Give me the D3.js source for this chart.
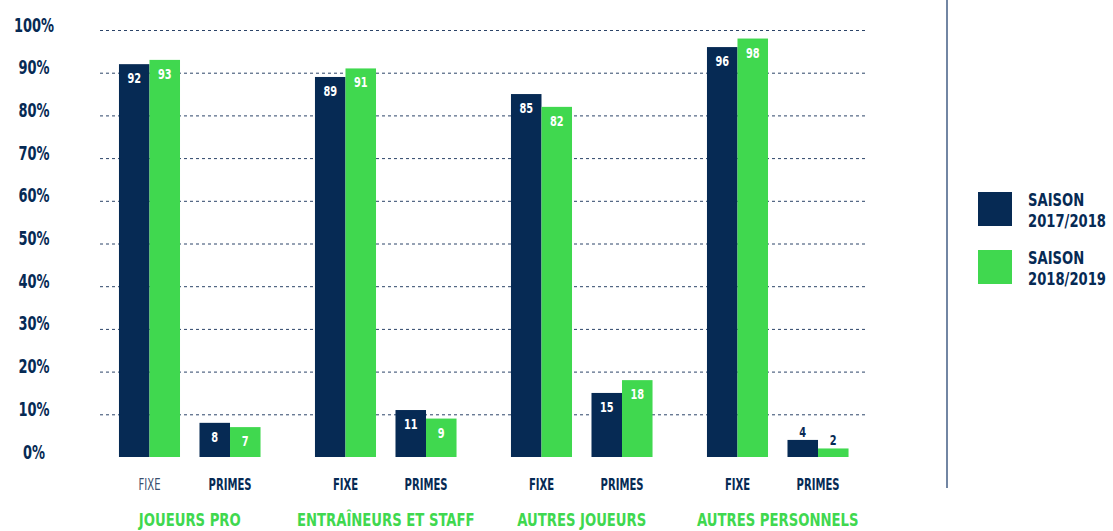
<!DOCTYPE html>
<html>
<head>
<meta charset="utf-8">
<script src="https://cdn.jsdelivr.net/npm/d3@7"></script>
<style>
  html, body { margin: 0; padding: 0; background: #ffffff; }
  svg { display: block; }
  text { font-family: "DejaVu Sans Condensed", "DejaVu Sans", sans-serif; }
</style>
</head>
<body>
<svg id="chart" width="1113" height="531"></svg>
<script>
// Categories
const groups = ["JOUEURS PRO", "ENTRAÎNEURS ET STAFF", "AUTRES JOUEURS", "AUTRES PERSONNELS"];
const kinds = ["FIXE", "PRIMES"];
const seasons = ["SAISON 2017/2018", "SAISON 2018/2019"];

// Share of pay (%) per group, fixed part then bonuses
const fixe2017 = [92, 89, 85, 96];
const fixe2018 = [93, 91, 82, 98];
const primes2017 = [8, 11, 15, 4];
const primes2018 = [7, 9, 18, 2];

const yTicks = [0, 10, 20, 30, 40, 50, 60, 70, 80, 90, 100];

const NAVY = "#062a54";
const GREEN = "#40d84f";
const colors = [NAVY, GREEN];

const rows = [];
groups.forEach((g, i) => {
  rows.push({ group: g, kind: "FIXE", values: [fixe2017[i], fixe2018[i]] });
  rows.push({ group: g, kind: "PRIMES", values: [primes2017[i], primes2018[i]] });
});

const svg = d3.select("#chart");

// Place a text at (x, y) with a horizontal squeeze to get a narrow display face
function place(sel, x, y, sx) {
  sel.attr("x", 0).attr("y", 0)
    .attr("transform", (d, i) => `translate(${x(d, i)},${y(d, i)}) scale(${sx},1)`);
}

const y = d3.scaleLinear().domain([0, 100]).range([457, 30]);

const xGroup = d3.scaleBand().domain(groups).range([91.75, 875.75]).paddingInner(0).paddingOuter(0);
const xKind = d3.scaleBand().domain(kinds).range([0, xGroup.bandwidth()])
  .paddingInner(0.242).paddingOuter(0.338);
const xSeason = d3.scaleBand().domain([0, 1]).range([0, xKind.bandwidth()]).padding(0);

// Dashed gridlines from 10% to 100%
const grid = svg.append("g")
  .attr("transform", "translate(865,0)")
  .call(d3.axisLeft(y).tickValues(yTicks.filter(t => t > 0)).tickSize(765).tickFormat(""));
grid.select(".domain").remove();
grid.selectAll(".tick line")
  .attr("stroke", "#2c4468")
  .attr("stroke-width", 1)
  .attr("stroke-dasharray", "3,3");

// Y axis labels
const yAxis = svg.append("g")
  .attr("transform", "translate(34,0)")
  .call(d3.axisLeft(y).tickValues(yTicks).tickSize(0).tickFormat(d => d + "%"));
yAxis.select(".domain").remove();
yAxis.selectAll(".tick text")
  .attr("x", 0)
  .attr("y", 1)
  .attr("dy", null)
  .attr("transform", "scale(0.76,1)")
  .attr("text-anchor", "middle")
  .attr("fill", NAVY)
  .attr("font-size", 19)
  .attr("font-weight", "bold")
  .style("font-family", "'DejaVu Sans Condensed', 'DejaVu Sans', sans-serif");

// Bars
const cells = svg.append("g").selectAll("g.cell")
  .data(rows).join("g")
  .attr("class", "cell")
  .attr("transform", d => `translate(${xGroup(d.group) + xKind(d.kind)},0)`);

cells.selectAll("rect")
  .data(d => d.values.map((v, i) => ({ v, i })))
  .join("rect")
  .attr("x", d => xSeason(d.i))
  .attr("width", xSeason.bandwidth())
  .attr("y", d => y(d.v))
  .attr("height", d => y(0) - y(d.v))
  .attr("fill", d => colors[d.i]);

// Value labels: inside the bar when tall enough, above otherwise
cells.selectAll("text.val")
  .data(d => d.values.map((v, i) => ({ v, i })))
  .join("text")
  .attr("class", "val")
  .attr("text-anchor", "middle")
  .attr("fill", d => d.v >= 5 ? "#ffffff" : NAVY)
  .attr("font-size", 14)
  .attr("font-weight", "bold")
  .text(d => d.v)
  .call(place, d => xSeason(d.i) + xSeason.bandwidth() / 2,
    d => d.v >= 5 ? y(d.v) + 19 : y(d.v) - 3, 0.78);

// Sub-category labels
svg.append("g").selectAll("text")
  .data(rows).join("text")
  .attr("text-anchor", "middle")
  .attr("fill", (d, i) => i === 0 ? "#3a4f6e" : NAVY)
  .attr("font-size", 15)
  .attr("font-weight", (d, i) => i === 0 ? "normal" : "bold")
  .text(d => d.kind)
  .call(place, d => xGroup(d.group) + xKind(d.kind) + xKind.bandwidth() / 2, () => 490, 0.745);

// Group labels
svg.append("g").selectAll("text")
  .data(groups).join("text")
  .attr("text-anchor", "middle")
  .attr("fill", GREEN)
  .attr("font-size", 18)
  .attr("font-weight", "bold")
  .text(d => d)
  .call(place, d => xGroup(d) + xGroup.bandwidth() / 2, () => 526, 0.816);

// Separator
svg.append("line")
  .attr("x1", 947).attr("x2", 947)
  .attr("y1", 0).attr("y2", 488)
  .attr("stroke", "#7286a3")
  .attr("stroke-width", 2);

// Legend
const legend = svg.append("g").selectAll("g")
  .data(seasons).join("g")
  .attr("transform", (d, i) => `translate(978,${192 + i * 58})`);
legend.append("rect")
  .attr("width", 34).attr("height", 34)
  .attr("fill", (d, i) => colors[i]);
legend.append("text")
  .attr("transform", "translate(50,14) scale(0.86,1)")
  .attr("fill", NAVY)
  .attr("font-size", 17)
  .attr("font-weight", "bold")
  .selectAll("tspan")
  .data(d => d.split(" "))
  .join("tspan")
  .attr("x", 0)
  .attr("dy", (d, i) => i === 0 ? 0 : 21)
  .text(d => d);
</script>
</body>
</html>
